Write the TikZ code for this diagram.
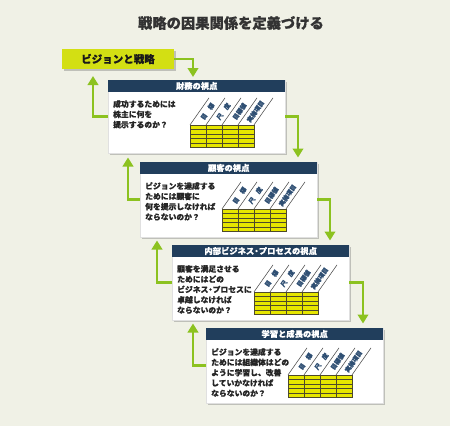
\documentclass[tikz,border=0pt]{standalone}
\usepackage{fontspec}
\newfontfamily\jp{Noto Sans CJK JP}[BoldFeatures={FakeBold=0.6}]
\usetikzlibrary{arrows.meta,calc,shadows}
\definecolor{bgc}{HTML}{F0F1E6}
\definecolor{navy}{HTML}{213E5C}
\definecolor{grn}{HTML}{8CC220}
\definecolor{visc}{HTML}{D3DF13}
\definecolor{tyel}{HTML}{E6E600}
\definecolor{tline}{HTML}{4E4A2A}
\definecolor{labc}{HTML}{2F4F73}
\definecolor{txt}{HTML}{262626}
\newcommand\hdot{\makebox[0.55em][c]{・}}
\tikzset{
  panel/.style={fill=white, draw=black!12, line width=0.4pt, inner sep=0pt, minimum width=177pt,
     drop shadow={shadow xshift=1.8pt, shadow yshift=-2.2pt, opacity=0.35, fill=black!60}},
  headbar/.style={fill=navy, inner sep=0pt, minimum width=177pt, minimum height=11.5pt,
     text=white, font=\jp\bfseries\fontsize{8.3}{9}\selectfont},
  bodytxt/.style={inner sep=0pt, align=left, text=txt, font=\jp\bfseries\fontsize{7.8}{10.3}\selectfont},
  tabline/.style={draw=tline, line width=0.6pt},
  slantln/.style={draw=black!70, line width=0.55pt},
  tablab/.style={inner sep=0pt, rotate=55, text=labc, font=\jp\bfseries\fontsize{6.2}{7}\selectfont},
  garrow/.style={draw=grn, line width=2.8pt, -{Triangle[width=10.5pt,length=9pt]}},
}
\newcommand\bscpanel[6]{%
  \node[panel, minimum height=#4pt, anchor=north west] (#1) at (#2,#3) {};
  \node[headbar, anchor=north] (#1h) at (#1.north) {#5};
  \node[bodytxt, anchor=north west] (#1t) at ($(#1.north west)+(5,20)$) {#6};
  \begin{scope}[shift={($(#1.south west)+(82,-6)$)}]
    \fill[tyel] (0,0) rectangle (64,-22.5);
    \foreach \r in {4.5,9,13.5,18} \draw[tabline] (0,-\r) -- (64,-\r);
    \foreach \c in {16,32,48} \draw[tabline] (\c,0) -- (\c,-22.5);
    \draw[tabline] (0,0) rectangle (64,-22.5);
    \foreach \c in {0,16,32,48,64} \draw[slantln] (\c,-22.5) -- ++(19,-27);
    \node[tablab] (#1la) at (17.5,-36) {目　標};
    \node[tablab] (#1lb) at (33.5,-36) {尺　度};
    \node[tablab] (#1lc) at (49.5,-36) {目標値};
    \node[tablab] (#1ld) at (65.5,-36) {実施項目};
  \end{scope}
}
\begin{document}
\begin{tikzpicture}[x=1pt,y=-1pt]
\fill[bgc] (0,0) rectangle (450,426);
\useasboundingbox (0,0) rectangle (450,426);

\node[text=black!80, font=\jp\bfseries\fontsize{14.3}{16}\selectfont, inner sep=0pt] (title) at (231,23) {戦略の因果関係を定義づける};

\node[fill=visc, minimum width=112pt, minimum height=20pt, inner sep=0pt,
      text=black!90, font=\jp\bfseries\fontsize{10.5}{12}\selectfont,
      drop shadow={shadow xshift=1.5pt, shadow yshift=-2.2pt, opacity=0.35, fill=black!60}] (vis) at (118,59) {ビジョンと戦略};

\coordinate (a0) at (193,77);
\coordinate (a1) at (93,76);
\coordinate (a2) at (298,157.5);
\coordinate (a3) at (128,157.5);
\coordinate (a4) at (330,240.5);
\coordinate (a5) at (157,240.5);
\coordinate (a6) at (363,323.5);
\coordinate (a7) at (193,323.5);

\bscpanel{b1}{108}{80}{73}{財務の視点}{成功するためには\\株主に何を\\提示するのか？}
\bscpanel{b2}{140}{162}{75}{顧客の視点}{ビジョンを達成する\\ためには顧客に\\何を提示しなければ\\ならないのか？}
\bscpanel{b3}{172}{245}{75}{内部ビジネス\hdot プロセスの視点}{顧客を満足させる\\ためにはどの\\ビジネス\hdot プロセスに\\卓越しなければ\\ならないのか？}
\bscpanel{b4}{206}{328}{75}{学習と成長の視点}{ビジョンを達成する\\ためには組織体はどの\\ように学習し、改善\\していかなければ\\ならないのか？}

\draw[garrow] (vis.east) -| (a0);
\draw[garrow] (b1.west) -| (a1);
\draw[garrow] (b1.east) -| (a2);
\draw[garrow] (b2.west) -| (a3);
\draw[garrow] (b2.east) -| (a4);
\draw[garrow] (b3.west) -| (a5);
\draw[garrow] (b3.east) -| (a6);
\draw[garrow] (b4.west) -| (a7);
\end{tikzpicture}
\end{document}
